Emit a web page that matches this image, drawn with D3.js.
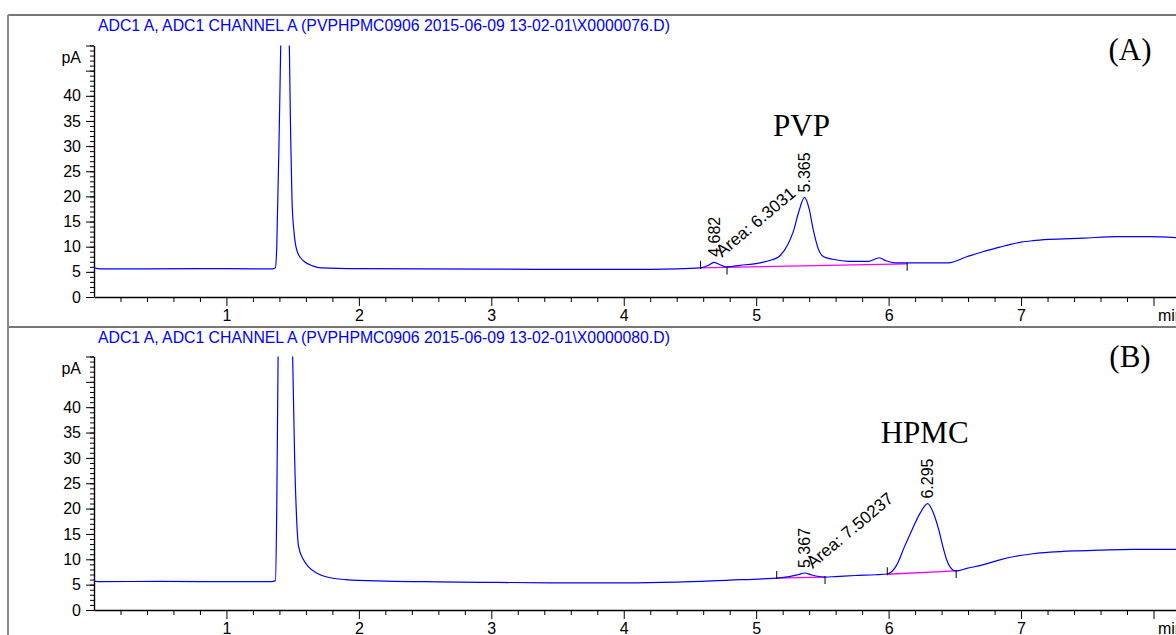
<!DOCTYPE html>
<html>
<head>
<meta charset="utf-8">
<script src="https://cdn.jsdelivr.net/npm/d3@7"></script>
<style>
  body { margin: 0; background: #fff; }
  svg { display: block; }
</style>
</head>
<body>
<script>
// chromatogram (A): PVP sample
var titleA = "ADC1 A, ADC1 CHANNEL A (PVPHPMC0906 2015-06-09 13-02-01\\X0000076.D)";
var timeA = [0.00, 0.05, 0.40, 0.80, 1.20, 1.35, 1.37, 1.38, 1.40, 1.41, 1.43, 1.45, 1.465, 1.475, 1.485, 1.495,
  1.51, 1.53, 1.56, 1.59, 1.65, 1.72, 2.00, 2.50, 3.00, 3.50, 4.00, 4.40, 4.58, 4.64, 4.68, 4.72, 4.77,
  4.88, 5.03, 5.12, 5.18, 5.24, 5.28, 5.32, 5.365, 5.40, 5.43, 5.47, 5.51, 5.58, 5.70, 5.85, 5.93, 5.98,
  6.05, 6.20, 6.45, 6.59, 6.71, 6.84, 6.92, 7.00, 7.09, 7.21, 7.47, 7.72, 7.97, 8.17];
var signalA = [5.8, 5.6, 5.6, 5.65, 5.6, 5.6, 5.8, 10, 35, 50, 75, 85, 65, 50, 32, 19.4,
  13, 9.4, 7.8, 7.0, 6.2, 5.8, 5.65, 5.6, 5.55, 5.5, 5.5, 5.6, 5.8, 6.3, 6.9, 6.5, 6.0,
  6.3, 6.8, 7.4, 8.2, 10.5, 13, 16.8, 19.8, 17.5, 13.5, 9.5, 8.0, 7.5, 7.1, 7.1, 7.8, 7.2,
  6.8, 6.8, 6.8, 8.0, 9.0, 9.9, 10.45, 10.9, 11.2, 11.45, 11.7, 12.0, 12.0, 11.8];
var peakTimesA = [4.682, 5.365];
var peakHeightsA = [7.0, 19.8];
var areaA = "Area: 6.3031";
var baselineA = [[4.58, 5.8, 6.14, 6.6]];
var marksA = [[4.58, 5.8, -1], [4.78, 5.85, 1], [6.14, 6.6, 1]];

// chromatogram (B): HPMC sample
var titleB = "ADC1 A, ADC1 CHANNEL A (PVPHPMC0906 2015-06-09 13-02-01\\X0000080.D)";
var timeB = [0.00, 0.05, 0.50, 1.00, 1.34, 1.37, 1.38, 1.39, 1.41, 1.44, 1.47, 1.50, 1.515, 1.53, 1.545,
  1.58, 1.62, 1.68, 1.76, 1.90, 2.20, 2.60, 3.00, 3.50, 4.00, 4.40, 4.80, 5.05, 5.155, 5.25, 5.32, 5.367,
  5.42, 5.52, 5.60, 5.75, 5.90, 5.99, 6.06, 6.12, 6.18, 6.24, 6.295, 6.34, 6.38, 6.41, 6.44, 6.48, 6.51,
  6.59, 6.71, 6.84, 6.96, 7.09, 7.22, 7.40, 7.59, 7.84, 8.17];
var signalB = [5.7, 5.6, 5.65, 5.6, 5.6, 5.8, 20, 50, 75, 90, 80, 50, 30, 18, 12.5,
  10, 8.5, 7.3, 6.5, 6.0, 5.7, 5.55, 5.45, 5.35, 5.35, 5.5, 5.9, 6.15, 6.3, 6.6, 7.0, 7.3,
  6.9, 6.5, 6.6, 6.8, 6.95, 7.1, 8.8, 12.5, 16, 19.2, 21, 19, 15.7, 12.5, 9.8, 8.0, 7.7,
  8.2, 8.9, 9.9, 10.6, 11.1, 11.4, 11.65, 11.8, 11.95, 11.95];
var peakTimesB = [5.367, 6.295];
var peakHeightsB = [7.3, 21];
var areaB = "Area: 7.50237";
var baselineB = [[5.155, 6.3, 5.52, 6.5], [5.99, 7.05, 6.51, 7.7]];
var marksB = [[5.155, 6.3, -1], [5.52, 6.5, 1], [5.99, 7.05, -1], [6.51, 7.7, 1]];

var xMajorTicks = [1, 2, 3, 4, 5, 6, 7, 8];
var yMajorTicks = [0, 5, 10, 15, 20, 25, 30, 35, 40, 45, 50];

var W = 1176, H = 635;
var sans = "'Liberation Sans', Arial, sans-serif";
var serif = "'Liberation Serif', 'Times New Roman', serif";

var panels = [
  { top: 15, y0: 297, y50: 45.5, title: titleA, time: timeA, signal: signalA, peakTimes: peakTimesA,
    peakHeights: peakHeightsA, area: areaA, baseline: baselineA, marks: marksA, tag: "(A)", tagY: 60, compound: "PVP" },
  { top: 327, y0: 610, y50: 356.5, title: titleB, time: timeB, signal: signalB, peakTimes: peakTimesB,
    peakHeights: peakHeightsB, area: areaB, baseline: baselineB, marks: marksB, tag: "(B)", tagY: 367, compound: "HPMC" }
];

var svg = d3.select("body").append("svg")
  .attr("width", W)
  .attr("height", H);

var x = d3.scaleLinear().domain([0, 8.17]).range([94, 1176]);

panels.forEach(function (p, i) {
  var y = d3.scaleLinear().domain([0, 50]).range([p.y0, p.y50]);
  var g = svg.append("g");

  // frame line above the panel
  g.append("line")
    .attr("x1", 8).attr("x2", W)
    .attr("y1", p.top).attr("y2", p.top)
    .attr("stroke", "#4a4a4a").attr("stroke-width", 1.4);

  g.append("text")
    .attr("x", 98).attr("y", p.top + 16)
    .attr("font-family", sans).attr("font-size", 15.8)
    .attr("fill", "#0000ff")
    .text(p.title);

  // minor ticks
  g.append("g")
    .attr("transform", "translate(0," + p.y0 + ")")
    .call(d3.axisBottom(x).tickValues(d3.range(0.2, 8.1, 0.2).filter(function (d) {
      return Math.abs(d - Math.round(d)) > 0.01;
    })).tickSize(5).tickSizeOuter(0).tickFormat(""))
    .call(function (a) { a.select(".domain").remove(); });

  g.append("g")
    .attr("transform", "translate(94,0)")
    .call(d3.axisLeft(y).tickValues(d3.range(0, 51)).tickSize(4).tickSizeOuter(0).tickFormat(""))
    .call(function (a) { a.select(".domain").remove(); });

  // major axes
  var xa = g.append("g")
    .attr("transform", "translate(0," + p.y0 + ")")
    .call(d3.axisBottom(x).tickValues(xMajorTicks).tickSize(9).tickSizeOuter(0).tickPadding(4)
      .tickFormat(function (d) { return d === 8 ? "min" : d; }));
  xa.selectAll("text").attr("font-size", 16).attr("font-family", sans);
  xa.selectAll(".tick").filter(function (d) { return d === 8; }).select("text")
    .attr("text-anchor", "start").attr("x", 4);
  xa.select(".domain").attr("stroke-width", 1.4);

  var ya = g.append("g")
    .attr("transform", "translate(94,0)")
    .call(d3.axisLeft(y).tickValues(yMajorTicks).tickSize(8).tickSizeOuter(0).tickPadding(5)
      .tickFormat(function (d) { return d <= 40 ? d : ""; }));
  ya.selectAll("text").attr("font-size", 16).attr("font-family", sans);
  ya.select(".domain").attr("stroke-width", 1.4);

  g.append("text")
    .attr("x", 81).attr("y", y(47.7))
    .attr("dominant-baseline", "central")
    .attr("text-anchor", "end")
    .attr("font-family", sans).attr("font-size", 16)
    .text("pA");

  // clipped trace
  g.append("clipPath").attr("id", "clip" + i)
    .append("rect")
    .attr("x", 94).attr("y", p.y50)
    .attr("width", W - 94).attr("height", p.y0 - p.y50);

  var line = d3.line()
    .x(function (d) { return x(d[0]); })
    .y(function (d) { return y(d[1]); })
    .curve(d3.curveMonotoneX);

  // integration baselines
  g.selectAll(".base")
    .data(p.baseline)
    .enter().append("line")
    .attr("x1", function (d) { return x(d[0]); })
    .attr("y1", function (d) { return y(d[1]); })
    .attr("x2", function (d) { return x(d[2]); })
    .attr("y2", function (d) { return y(d[3]); })
    .attr("stroke", "#ff00ff").attr("stroke-width", 1.3);

  g.append("path")
    .datum(d3.zip(p.time, p.signal))
    .attr("clip-path", "url(#clip" + i + ")")
    .attr("d", line)
    .attr("fill", "none")
    .attr("stroke", "#0000ff")
    .attr("stroke-width", 1.2);

  g.selectAll(".mark")
    .data(p.marks)
    .enter().append("line")
    .attr("x1", function (d) { return x(d[0]); })
    .attr("x2", function (d) { return x(d[0]); })
    .attr("y1", function (d) { return y(d[1]) + (d[2] < 0 ? -7 : -1); })
    .attr("y2", function (d) { return y(d[1]) + (d[2] < 0 ? 1 : 7); })
    .attr("stroke", "#000").attr("stroke-width", 1);

  // retention time labels
  p.peakTimes.forEach(function (t, k) {
    var px = x(t), py = y(p.peakHeights[k]) - 5;
    g.append("text")
      .attr("transform", "translate(" + px + "," + py + ") rotate(-90)")
      .attr("dominant-baseline", "central")
      .attr("font-family", sans).attr("font-size", 16)
      .text(t.toFixed(3));
    if (k === 0) {
      g.append("text")
        .attr("transform", "translate(" + (px + 8) + "," + (py + 1) + ") rotate(-40)")
        .attr("font-family", sans).attr("font-size", 17)
        .text(p.area);
    } else {
      g.append("text")
        .attr("x", px - 3).attr("y", py + 5 - 61)
        .attr("text-anchor", "middle")
        .attr("font-family", serif).attr("font-size", 31)
        .text(p.compound);
    }
  });

  g.append("text")
    .attr("x", 1130).attr("y", p.tagY)
    .attr("text-anchor", "middle")
    .attr("font-family", serif).attr("font-size", 31)
    .text(p.tag);
});

// left frame edge
svg.append("line")
  .attr("x1", 8).attr("x2", 8)
  .attr("y1", 15).attr("y2", H)
  .attr("stroke", "#8a8a8a").attr("stroke-width", 2);
</script>
</body>
</html>
